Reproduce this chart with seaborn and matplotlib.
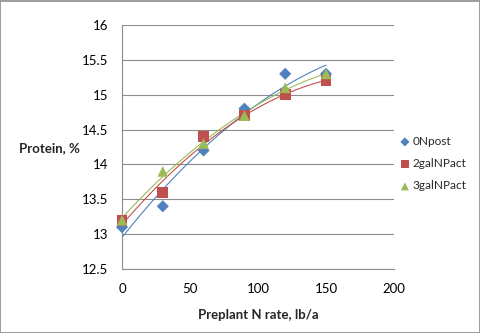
import numpy as np
import pandas as pd
import seaborn as sns
import matplotlib.pyplot as plt
from matplotlib.patches import Rectangle

# Preplant N rate (lb/a) and grain protein (%) by treatment
n_rate = [0, 30, 60, 90, 120, 150]
npost0 = [13.1, 13.4, 14.2, 14.8, 15.3, 15.3]
gal2 = [13.2, 13.6, 14.4, 14.7, 15.0, 15.2]
gal3 = [13.2, 13.9, 14.3, 14.7, 15.1, 15.3]
series_names = ["0Npost", "2galNPact", "3galNPact"]
x_ticks = [0, 50, 100, 150, 200]
y_ticks = [12.5, 13, 13.5, 14, 14.5, 15, 15.5, 16]

df = pd.DataFrame({
    "rate": n_rate * 3,
    "protein": npost0 + gal2 + gal3,
    "series": np.repeat(series_names, len(n_rate)),
})

colors = {"0Npost": "#4F81BD", "2galNPact": "#C0504D", "3galNPact": "#9BBB59"}
markers = {"0Npost": "D", "2galNPact": "s", "3galNPact": "^"}
sizes = {"0Npost": 38, "2galNPact": 60, "3galNPact": 60}

sns.set_style("white")
plt.rcParams["font.family"] = ["Lato", "DejaVu Sans"]

W, H = 481, 333
fig = plt.figure(figsize=(W / 100, H / 100), dpi=100)
ax = fig.add_axes([122 / W, 1 - 269 / H, (394 - 122) / W, (269 - 25) / H])

# second-order polynomial trendlines
xs = np.linspace(0, 150, 200)
for name in series_names:
    sub = df[df["series"] == name]
    coef = np.polyfit(sub["rate"], sub["protein"], 2)
    ax.plot(xs, np.polyval(coef, xs), color=colors[name], lw=0.8, zorder=2)

for name in series_names:
    sub = df[df["series"] == name]
    sns.scatterplot(data=sub, x="rate", y="protein", ax=ax, color=colors[name],
                    marker=markers[name], s=sizes[name], edgecolor="none",
                    label=name, zorder=3, clip_on=False)

ax.set_xlim(0, 200)
ax.set_ylim(12.5, 16)
ax.set_xticks(x_ticks)
ax.set_yticks(y_ticks)
ax.set_yticklabels([f"{v:g}" for v in y_ticks])
ax.yaxis.grid(True, color="#8C8C8C", lw=0.8)
ax.set_axisbelow(True)
for side in ["top", "right"]:
    ax.spines[side].set_visible(False)
for side in ["left", "bottom"]:
    ax.spines[side].set_color("#8C8C8C")
    ax.spines[side].set_linewidth(0.8)
ax.tick_params(axis="both", which="major", labelsize=9.5, colors="#8C8C8C",
               labelcolor="black", length=4, width=0.8, direction="out")
ax.tick_params(axis="x", pad=6)
ax.tick_params(axis="y", pad=6)
ax.set_xlabel("Preplant N rate, lb/a", fontsize=9.5, fontweight="bold", labelpad=10)
ax.set_ylabel("")
fig.text(19 / W, 1 - 148 / H, "Protein, %", fontsize=9.5, fontweight="bold",
         ha="left", va="center")

ax.legend(loc="upper left", bbox_to_anchor=(399 / W, 1 - 136 / H),
          bbox_transform=fig.transFigure, frameon=False, fontsize=8.5,
          handlelength=1.0, handletextpad=0.15, labelspacing=0.95,
          borderpad=0, borderaxespad=0, markerscale=0.75)

# outer chart border
fig.patches.append(Rectangle((0.001, 0.0015), 0.997, 0.996, transform=fig.transFigure,
                             fill=False, edgecolor="#8C8C8C", lw=1.2))

fig.savefig("out.png", dpi=100)
